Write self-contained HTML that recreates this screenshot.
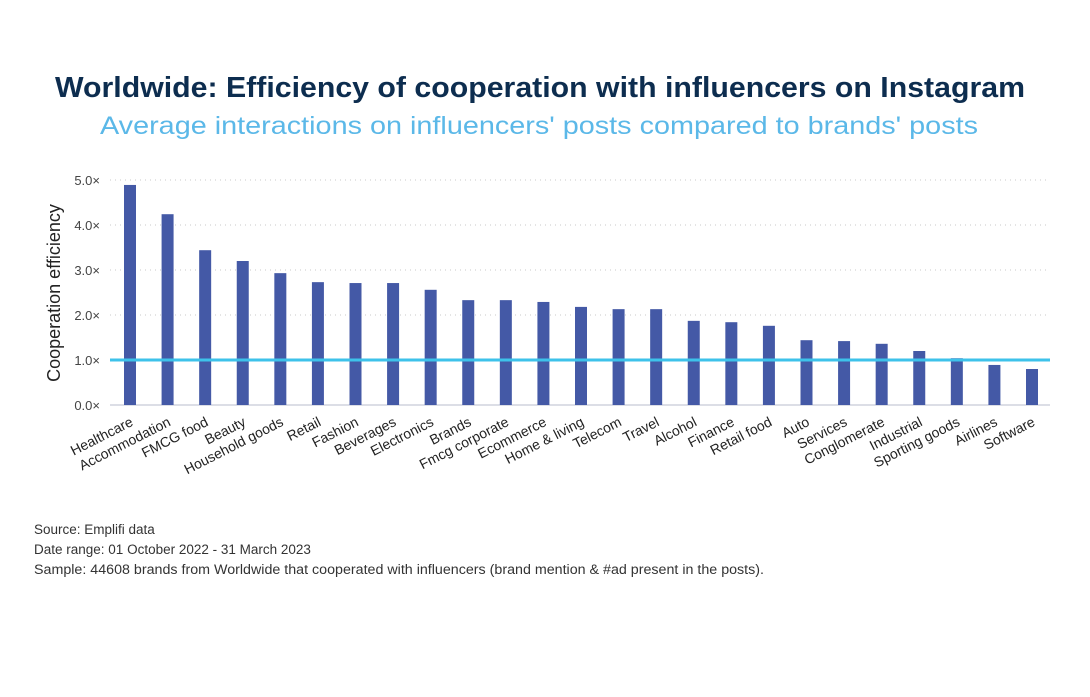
<!DOCTYPE html>
<html><head><meta charset="utf-8"><style>
body{margin:0;background:#fff;}
svg text{font-family:"Liberation Sans",sans-serif;}
</style></head><body>
<svg id="chart" width="1090" height="692" xmlns="http://www.w3.org/2000/svg">
<text x="55" y="97" textLength="970" lengthAdjust="spacingAndGlyphs" font-size="29" font-weight="bold" fill="#0d2d4f">Worldwide: Efficiency of cooperation with influencers on Instagram</text>
<text x="100" y="134" textLength="878" lengthAdjust="spacingAndGlyphs" font-size="25" fill="#5bb8e8">Average interactions on influencers' posts compared to brands' posts</text>
<text transform="translate(60,293) rotate(-90)" text-anchor="middle" font-size="18" fill="#222">Cooperation efficiency</text>
<g id="grid"></g><g id="bars"></g><g id="xlabels"></g>
<text x="34" y="534" font-size="13.5" fill="#333">Source:  Emplifi data</text>
<text x="34" y="554" font-size="13.5" fill="#333">Date range:  01 October 2022 - 31 March 2023</text>
<text x="34" y="574" textLength="730" lengthAdjust="spacingAndGlyphs" font-size="13.5" fill="#333">Sample:  44608 brands from Worldwide that cooperated with influencers (brand mention &amp; #ad present in the posts).</text>
</svg>
<script>
const categories=["Healthcare","Accommodation","FMCG food","Beauty","Household goods","Retail","Fashion","Beverages","Electronics","Brands","Fmcg corporate","Ecommerce","Home & living","Telecom","Travel","Alcohol","Finance","Retail food","Auto","Services","Conglomerate","Industrial","Sporting goods","Airlines","Software"];
const values=[4.89,4.24,3.44,3.2,2.93,2.73,2.71,2.71,2.56,2.33,2.33,2.29,2.18,2.13,2.13,1.87,1.84,1.76,1.44,1.42,1.36,1.2,1.04,0.89,0.8];
const ticks=[0,1,2,3,4,5];
const tickLabels=["0.0×","1.0×","2.0×","3.0×","4.0×","5.0×"];
const baseline=1.0;
const NS="http://www.w3.org/2000/svg";
const y=v=>405-v*45;
const x=i=>130+i*(1032-130)/(categories.length-1);
function mk(t,a,p){const e=document.createElementNS(NS,t);for(const k in a)e.setAttribute(k,a[k]);p.appendChild(e);return e;}
const grid=document.getElementById('grid'),bars=document.getElementById('bars'),xl=document.getElementById('xlabels');
ticks.forEach((t,i)=>{
 const l=mk('line',{x1:110,x2:1050,y1:y(t),y2:y(t),stroke:t===0?'#c8cbd8':'#c8c8c8','stroke-dasharray':t===0?'':'1,4','stroke-width':t===0?1.2:1},grid);
 
 
 const tx=mk('text',{x:100,y:y(t)+5,'text-anchor':'end','font-size':13,fill:'#444'},grid);
 tx.textContent=tickLabels[i];
 
 
});
categories.forEach((c,i)=>{
 const r=mk('rect',{x:x(i)-6,y:y(values[i]),width:12,height:y(0)-y(values[i]),fill:'#4459a6'},bars);
 
 
 const t=mk('text',{transform:`translate(${x(i)+4},${425}) rotate(-27)`,'text-anchor':'end','font-size':14,fill:'#222'},xl);
 t.textContent=c;
 
 
});
const bl=mk('line',{x1:110,x2:1050,y1:y(baseline),y2:y(baseline),stroke:'#3dc2ea','stroke-width':3},bars);


</script>
</body></html>
